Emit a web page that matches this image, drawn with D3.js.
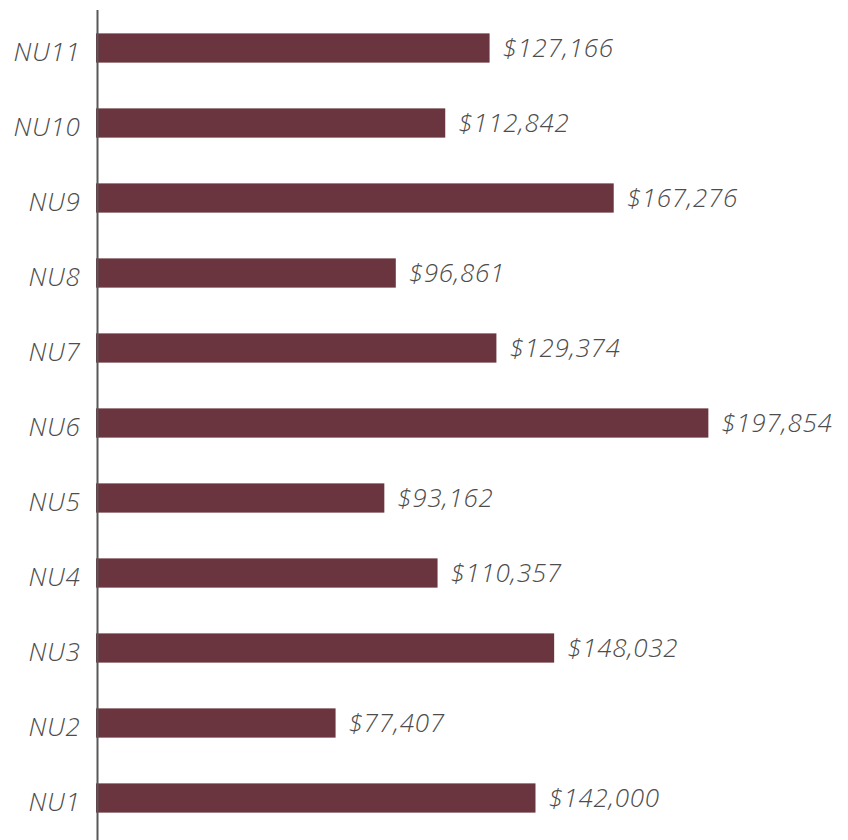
<!DOCTYPE html>
<html>
<head>
<meta charset="utf-8">
<script src="https://cdn.jsdelivr.net/npm/d3@7"></script>
<style>
  html, body { margin: 0; padding: 0; background: #fff; }
  svg { display: block; }
</style>
</head>
<body>
<div id="chart"></div>
<script>
// Units, listed top to bottom
const units = ["NU11", "NU10", "NU9", "NU8", "NU7", "NU6", "NU5", "NU4", "NU3", "NU2", "NU1"];
// Dollar amount per unit, same order
const amounts = [127166, 112842, 167276, 96861, 129374, 197854, 93162, 110357, 148032, 77407, 142000];

const W = 848, H = 840;
const left = 96;

const svg = d3.select("#chart").append("svg")
  .attr("width", W).attr("height", H);

const x = d3.scaleLinear().domain([0, 200000]).range([left, left + 619]);
const y = d3.scaleBand().domain(units).range([10.5, 835.5]).paddingInner(0.61).paddingOuter(0.305);

const fmt = v => "$" + d3.format(",")(v);
const font = "'Open Sans', sans-serif";
const textColor = "#4d4d4d";

// bars
svg.append("g").selectAll("rect")
  .data(units)
  .join("rect")
  .attr("x", x(0))
  .attr("y", d => y(d))
  .attr("width", (d, i) => x(amounts[i]) - x(0))
  .attr("height", y.bandwidth())
  .attr("fill", "#6A353F");

// category axis
const axis = d3.axisLeft(y).tickSize(0).tickPadding(17);
const ag = svg.append("g").attr("transform", `translate(${left + 1.5},0)`).call(axis);
ag.select(".domain").remove();
ag.append("line")
  .attr("x1", 0).attr("x2", 0).attr("y1", 10).attr("y2", H)
  .attr("stroke", "#595959").attr("stroke-width", 2);
ag.selectAll(".tick text")
  .attr("font-family", font)
  .attr("font-style", "italic")
  .attr("font-weight", 300)
  .attr("font-size", 26)
  .attr("letter-spacing", 0.7)
  .attr("fill", textColor)
  .attr("dy", "0.5em");

// value labels
svg.append("g").selectAll("text")
  .data(units)
  .join("text")
  .attr("x", (d, i) => x(amounts[i]) + 13)
  .attr("y", d => y(d) + y.bandwidth() / 2)
  .attr("dy", "0.34em")
  .attr("font-family", font)
  .attr("font-style", "italic")
  .attr("font-weight", 300)
  .attr("font-size", 26)
  .attr("letter-spacing", 0.7)
  .attr("fill", textColor)
  .text((d, i) => fmt(amounts[i]));
</script>
</body>
</html>
